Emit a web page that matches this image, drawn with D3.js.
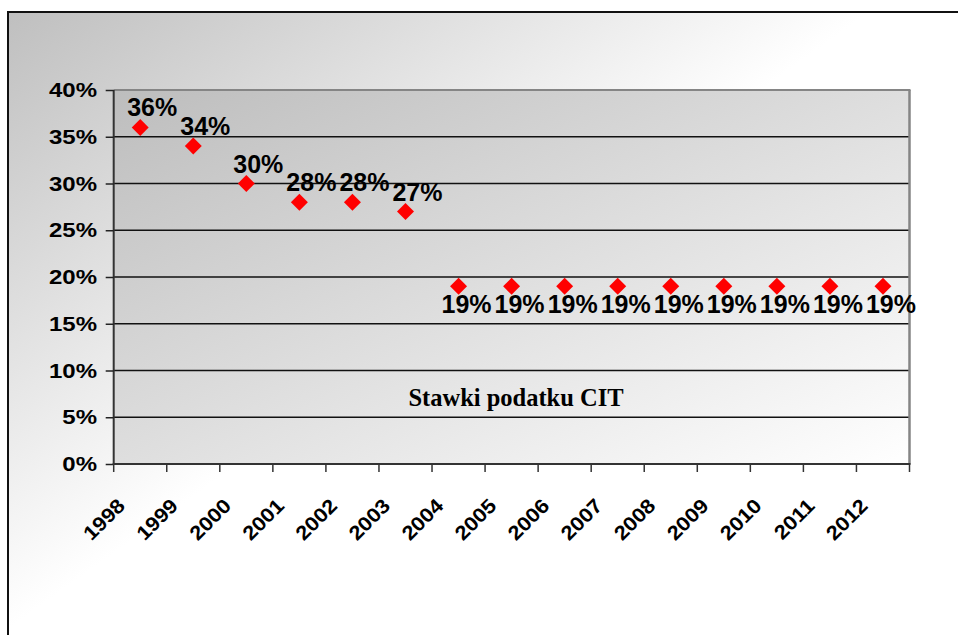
<!DOCTYPE html>
<html><head><meta charset="utf-8">
<script src="https://cdn.jsdelivr.net/npm/d3@7/dist/d3.min.js"></script>
<style>html,body{margin:0;padding:0;background:#fff;}svg{display:block;}</style>
</head><body>
<svg id="c" width="958" height="635"></svg>
<script>
const years = ["1998","1999","2000","2001","2002","2003","2004","2005","2006","2007","2008","2009","2010","2011","2012"];
const rates = [0.36,0.34,0.30,0.28,0.28,0.27,0.19,0.19,0.19,0.19,0.19,0.19,0.19,0.19,0.19];
const yTicks = [0,0.05,0.10,0.15,0.20,0.25,0.30,0.35,0.40];
const title = "Stawki podatku CIT";

const svg = d3.select("#c");
const defs = svg.append("defs");
const og = defs.append("linearGradient").attr("id","outerG").attr("gradientUnits","userSpaceOnUse")
  .attr("x1",8).attr("y1",12).attr("x2",300).attr("y2",420);
og.append("stop").attr("offset",0).attr("stop-color","#bfbfbf");
og.append("stop").attr("offset",1).attr("stop-color","#ffffff");
const pg = defs.append("linearGradient").attr("id","plotG").attr("x1",0).attr("y1",0).attr("x2",1).attr("y2",1);
pg.append("stop").attr("offset",0).attr("stop-color","#bdbdbd");
pg.append("stop").attr("offset",1).attr("stop-color","#ffffff");

// outer chart area
svg.append("rect").attr("x",8).attr("y",12).attr("width",1000).attr("height",700)
  .attr("fill","url(#outerG)").attr("stroke","#111").attr("stroke-width",2);

const L = 113.7, R = 909.5, T = 90, B = 464;
const x = d3.scaleBand().domain(years).range([L,R]).padding(0);
const y = d3.scaleLinear().domain([0,0.40]).range([B,T]);

svg.append("rect").attr("x",L).attr("y",T).attr("width",R-L).attr("height",B-T).attr("fill","url(#plotG)");

// gridlines
svg.append("g").selectAll("line").data(yTicks.filter(d=>d>0 && d<0.40)).join("line")
  .attr("x1",L).attr("x2",R).attr("y1",d=>y(d)).attr("y2",d=>y(d))
  .attr("stroke","#111").attr("stroke-width",1.4);

// plot border top/right
svg.append("line").attr("x1",L).attr("x2",R+1).attr("y1",T).attr("y2",T).attr("stroke","#858585").attr("stroke-width",2);
svg.append("line").attr("x1",R).attr("x2",R).attr("y1",T).attr("y2",B).attr("stroke","#858585").attr("stroke-width",2.5);

// y axis
const yAxis = d3.axisLeft(y).tickValues(yTicks).tickSize(8).tickFormat(d=>"");
const ga = svg.append("g").attr("transform",`translate(${L},0)`).call(yAxis);
ga.select(".domain").attr("stroke","#333").attr("stroke-width",2).attr("d",`M0,${T}V${B}`);
ga.selectAll(".tick line").attr("stroke","#222").attr("stroke-width",1.5);
svg.append("g").selectAll("text").data(yTicks).join("text")
  .attr("transform",d=>`translate(97,${y(d)+7.2}) scale(1.2,1)`)
  .attr("text-anchor","end").attr("font-family","Liberation Sans, Arial, sans-serif")
  .attr("font-weight","bold").attr("font-size",20).attr("fill","#000")
  .text(d=>Math.round(d*100)+"%");

// x axis
svg.append("line").attr("x1",L-1).attr("x2",R+1).attr("y1",B).attr("y2",B).attr("stroke","#333").attr("stroke-width",2);
const bounds = years.map(d=>x(d)).concat([x(years[years.length-1])+x.bandwidth()]);
svg.append("g").selectAll("line").data(bounds).join("line")
  .attr("x1",d=>d).attr("x2",d=>d).attr("y1",B).attr("y2",B+8)
  .attr("stroke","#333").attr("stroke-width",1.5);
svg.append("g").selectAll("text").data(years).join("text")
  .attr("transform",d=>`translate(${x(d)+x.bandwidth()/2-14},507) rotate(-45) scale(1.1,1)`)
  .attr("text-anchor","end").attr("font-family","Liberation Sans, Arial, sans-serif")
  .attr("font-weight","bold").attr("font-size",20).attr("fill","#000")
  .text(d=>d);

// markers
const sym = d3.symbol().type(d3.symbolSquare).size(144);
svg.append("g").selectAll("path").data(rates).join("path")
  .attr("d",sym)
  .attr("transform",(d,i)=>`translate(${x(years[i])+x.bandwidth()/2},${y(d)}) rotate(45)`)
  .attr("fill","#ff0000");

// data labels
svg.append("g").selectAll("text").data(rates).join("text")
  .attr("x",(d,i)=>x(years[i])+x.bandwidth()/2+(d>0.2?12:8))
  .attr("y",d=>y(d)+(d>0.2?-11:27))
  .attr("text-anchor","middle").attr("font-family","Liberation Sans, Arial, sans-serif")
  .attr("font-weight","bold").attr("font-size",25).attr("fill","#000")
  .text(d=>Math.round(d*100)+"%");

// title text
svg.append("text").attr("x",516).attr("y",406).attr("text-anchor","middle")
  .attr("font-family","Liberation Serif, Times New Roman, serif").attr("font-weight","bold")
  .attr("font-size",24.5).attr("fill","#000").text(title);
</script>
</body></html>
